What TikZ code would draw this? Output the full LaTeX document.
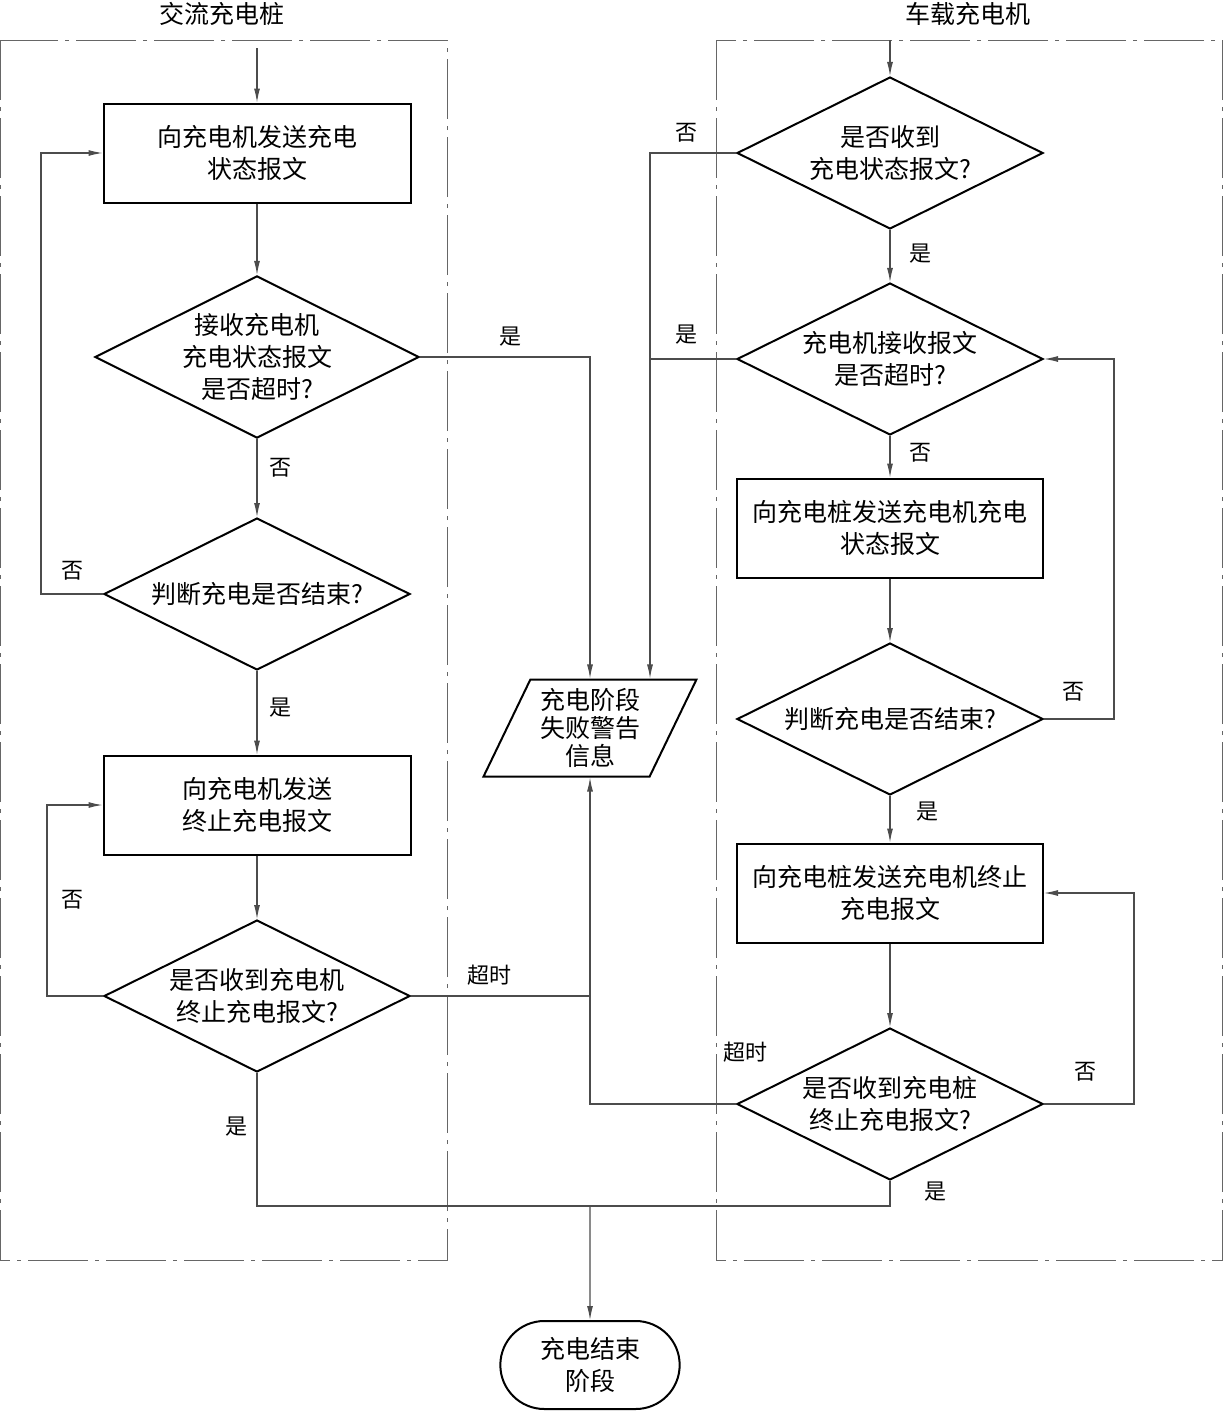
\documentclass[tikz,border=0pt]{standalone}
\usepackage{fontspec}
\setmainfont{Noto Sans CJK SC}
\usetikzlibrary{shapes.geometric,shapes.misc,arrows.meta,positioning,calc}
\tikzset{
    proc/.style={rectangle, draw, line width=2pt, minimum width=307pt, minimum height=99pt, align=center, font=\fontsize{25}{32}\selectfont},
    decide/.style={diamond, aspect=2, draw, line width=2pt, minimum width=306pt, minimum height=152pt, inner sep=0pt, align=center, font=\fontsize{25}{32}\selectfont},
    io/.style={trapezium, trapezium left angle=64, trapezium right angle=116, trapezium stretches=true, draw, line width=2pt, minimum width=213pt, minimum height=97pt, align=center, font=\fontsize{25}{28}\selectfont},
    term/.style={rounded rectangle, draw, line width=2pt, minimum width=186pt, minimum height=88pt, align=center, font=\fontsize{25}{32}\selectfont},
    lane/.style={draw=black!60, line width=1pt, dash pattern=on 60pt off 7pt on 4pt off 7pt},
    line/.style={draw=black!70, line width=1.1pt},
    arrow/.style={line, -{Latex[length=14pt,width=6pt]}},
    lbl/.style={font=\fontsize{22}{22}\selectfont},
}
\begin{document}
\begin{tikzpicture}[x=1pt,y=-1pt]
    \useasboundingbox (0,0) rectangle (1224,1411);
    % swim lanes
    \draw[lane] (0,40) rectangle (447,1260);
    \draw[lane] (716,40) rectangle (1222,1260);
    \node[font=\fontsize{25}{25}\selectfont] (tl) at (222,14) {交流充电桩};
    \node[font=\fontsize{25}{25}\selectfont] (tr) at (968,14) {车载充电机};
    \coordinate (inl) at (257,48);
    \coordinate (inr) at (890,40);

    % charging pile
    \node[proc] (b1) at (257,153) {向充电机发送充电\\状态报文};
    \node[decide, minimum width=322pt, minimum height=160pt] (d1) at (257,357) {接收充电机\\充电状态报文\\是否超时?};
    \node[decide] (d2) at (257,594) {判断充电是否结束?};
    \node[proc] (b2) at (257,805) {向充电机发送\\终止充电报文};
    \node[decide] (d3) at (257,996) {是否收到充电机\\终止充电报文?};

    % middle
    \node[io] (fail) at (590,728) {充电阶段\\失败警告\\信息};
    \node[term] (fin) at (590,1365) {充电结束\\阶段};

    % on-board charger
    \node[decide] (r1) at (890,153) {是否收到\\充电状态报文?};
    \node[decide] (r2) at (890,359) {充电机接收报文\\是否超时?};
    \node[proc, minimum width=306pt] (r3) at (890,528) {向充电桩发送充电机充电\\状态报文};
    \node[decide] (r4) at (890,719) {判断充电是否结束?};
    \node[proc, minimum width=306pt] (r5) at (890,893) {向充电桩发送充电机终止\\充电报文};
    \node[decide] (r6) at (890,1104) {是否收到充电桩\\终止充电报文?};

    \coordinate (tap) at ($(fail.north)+(60,0)$);
    \coordinate (mrg) at (590,1206);

    % left flow
    \draw[arrow] (inl) -- (b1);
    \draw[arrow] (b1) -- (d1);
    \draw[arrow] (d1) -- (d2);
    \draw[arrow] (d2) -- (b2);
    \draw[arrow] (b2) -- (d3);
    \draw[arrow] (d2.west) -- ++(-62,0) |- (b1.west);
    \draw[arrow] (d3.west) -- ++(-56,0) |- (b2.west);
    \draw[arrow] (d1.east) -| (fail.north);
    \draw[line] (d3.east) -- (d3.east -| fail.south);
    \draw[line] (d3.south) |- (mrg) -| (r6.south);
    \draw[arrow] (mrg) -- (fin);

    % right flow
    \draw[arrow] (inr) -- (r1);
    \draw[arrow] (r1) -- (r2);
    \draw[arrow] (r2) -- (r3);
    \draw[arrow] (r3) -- (r4);
    \draw[arrow] (r4) -- (r5);
    \draw[arrow] (r5) -- (r6);
    \draw[arrow] (r1.west) -| (tap);
    \draw[line] (r2.west) -- (r2.west -| tap);
    \draw[arrow] (r4.east) -- ++(70,0) |- (r2.east);
    \draw[arrow] (r6.east) -- ++(90,0) |- (r5.east);
    \draw[arrow] (r6.west) -| (fail.south);

    % labels
    \node[lbl] at (510,337) {是};
    \node[lbl] at (280,468) {否};
    \node[lbl] at (72,571) {否};
    \node[lbl] at (280,708) {是};
    \node[lbl] at (72,900) {否};
    \node[lbl] at (489,975) {超时};
    \node[lbl] at (236,1127) {是};
    \node[lbl] at (686,133) {否};
    \node[lbl] at (686,335) {是};
    \node[lbl] at (920,254) {是};
    \node[lbl] at (920,453) {否};
    \node[lbl] at (1073,692) {否};
    \node[lbl] at (927,812) {是};
    \node[lbl] at (1085,1072) {否};
    \node[lbl] at (745,1052) {超时};
    \node[lbl] at (935,1192) {是};
\end{tikzpicture}
\end{document}
